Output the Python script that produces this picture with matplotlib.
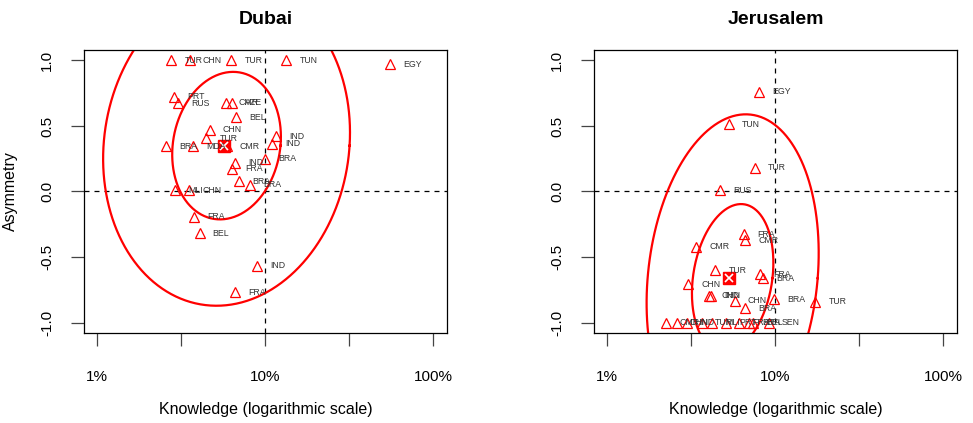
import numpy as np
import matplotlib
matplotlib.use("Agg")
import matplotlib.pyplot as plt

plt.rcParams["font.family"] = ["Liberation Sans", "DejaVu Sans"]

# Dubai: knowledge (%), asymmetry, country
dubai_know = [2.76, 3.54, 6.28, 13.3, 55.0, 2.88, 3.02, 5.80, 6.36, 6.66,
              4.66, 4.46, 2.55, 3.71, 5.88, 11.6, 10.9, 9.9, 6.57, 6.36,
              6.97, 8.14, 2.92, 3.51, 3.76, 4.06, 8.96, 6.57]
dubai_asym = [1.0, 1.0, 1.0, 1.0, 0.973, 0.725, 0.675, 0.679, 0.679, 0.568,
              0.471, 0.408, 0.344, 0.344, 0.344, 0.42, 0.365, 0.249, 0.218, 0.173,
              0.078, 0.053, 0.01, 0.01, -0.193, -0.319, -0.568, -0.770]
dubai_lab = ["TUR", "CHN", "TUR", "TUN", "EGY", "PRT", "RUS", "CMR", "AZE", "BEL",
             "CHN", "TUR", "BRA", "MDA", "CMR", "IND", "IND", "BRA", "IND", "FRA",
             "BRA", "BRA", "MLI", "CHN", "FRA", "BEL", "IND", "FRA"]

# Jerusalem
jer_know = [8.03, 5.27, 7.53, 4.71, 6.48, 6.63, 3.37, 4.40, 8.14, 8.40,
            3.02, 4.01, 4.16, 5.73, 6.63, 9.77, 17.3,
            2.25, 2.59, 2.96, 3.64, 4.18, 5.06, 6.05, 6.94, 7.33, 9.12]
jer_asym = [0.763, 0.514, 0.183, 0.01, -0.325, -0.371, -0.422, -0.600, -0.631, -0.661,
            -0.707, -0.796, -0.796, -0.834, -0.89, -0.821, -0.84,
            -1.0, -1.0, -1.0, -1.0, -1.0, -1.0, -1.0, -1.0, -1.0, -1.0]
jer_lab = ["EGY", "TUN", "TUR", "RUS", "FRA", "CMR", "CMR", "TUR", "FRA", "BRA",
           "CHN", "CHN", "IND", "CHN", "BRA", "BRA", "TUR",
           "CMR", "CHN", "IND", "TUR", "MLI", "PRT", "FRA", "BRA", "BEL", "SEN"]

# group means (knowledge %, asymmetry)
dubai_mean = (5.65, 0.35)
jer_mean = (5.27, -0.661)

# ellipse centres and shapes: (half-width in decades, half-height, shear in decades)
dubai_ell_center = (5.88, 0.35)
jer_ell_center = (5.57, -0.661)
dubai_ell = [(0.321, 0.563, 0.039), (0.732, 1.222, 0.06)]
jer_ell = [(0.237, 0.565, 0.05), (0.506, 1.25, 0.078)]


def panel(ax, title, know, asym, labels, mean, ell_center, ellipses):
    ax.set_xscale("log")
    ax.set_xlim(10 ** -0.079, 10 ** 2.081)
    ax.set_ylim(-1.08, 1.08)

    ax.axvline(10, color="black", linestyle=(0, (4, 4)), linewidth=0.9)
    ax.axhline(0, color="black", linestyle=(0, (4, 4)), linewidth=0.9)

    t = np.linspace(0, 2 * np.pi, 300)
    cx = np.log10(ell_center[0])
    for wx, hy, sx in ellipses:
        lx = cx + wx * np.cos(t) + sx * np.sin(t)
        ly = ell_center[1] + hy * np.sin(t)
        ax.plot(10 ** lx, ly, color="red", linewidth=1.6)

    ax.plot(know, asym, linestyle="none", marker="^", markersize=7.5,
            markerfacecolor="none", markeredgecolor="red", markeredgewidth=0.9)
    for x, y, s in zip(know, asym, labels):
        ax.annotate(s, (x, y), xytext=(9.5, 0), textcoords="offset points",
                    ha="left", va="center", fontsize=6.3, color="#333333")

    ax.plot(mean[0], mean[1], marker="s", markersize=8.5, color="red")
    ax.plot(mean[0], mean[1], marker="x", markersize=6, color="white",
            markeredgewidth=1.2)

    ax.set_xticks([1, 10 ** 0.5, 10, 10 ** 1.5, 100])
    ax.set_xticklabels(["1%", "", "10%", "", "100%"])
    ax.minorticks_off()
    ax.set_yticks([-1.0, -0.5, 0.0, 0.5, 1.0])
    ax.set_yticklabels(["-1.0", "-0.5", "0.0", "0.5", "1.0"], rotation=90,
                       va="center")
    ax.tick_params(axis="x", length=9.4, width=0.9, pad=17, labelsize=11,
                   color="#444444")
    ax.tick_params(axis="y", length=9.4, width=0.9, pad=12, labelsize=11,
                   color="#444444")
    for sp in ax.spines.values():
        sp.set_linewidth(0.9)

    ax.set_xlabel("Knowledge (logarithmic scale)", fontsize=11.5)
    ax.xaxis.set_label_coords(0.5, -0.244)
    ax.set_title(title, fontsize=14, fontweight="bold", pad=19)


fig = plt.figure(figsize=(9.73, 4.23), dpi=100)
ax1 = fig.add_axes([0.0863, 0.2128, 0.3731, 0.669])
ax2 = fig.add_axes([0.6105, 0.2128, 0.3731, 0.669])

panel(ax1, "Dubai", dubai_know, dubai_asym, dubai_lab, dubai_mean,
      dubai_ell_center, dubai_ell)
panel(ax2, "Jerusalem", jer_know, jer_asym, jer_lab, jer_mean,
      jer_ell_center, jer_ell)

ax1.set_ylabel("Asymmetry", fontsize=11.5)
ax1.yaxis.set_label_coords(-0.182, 0.5)

fig.savefig("out.png", dpi=100)
